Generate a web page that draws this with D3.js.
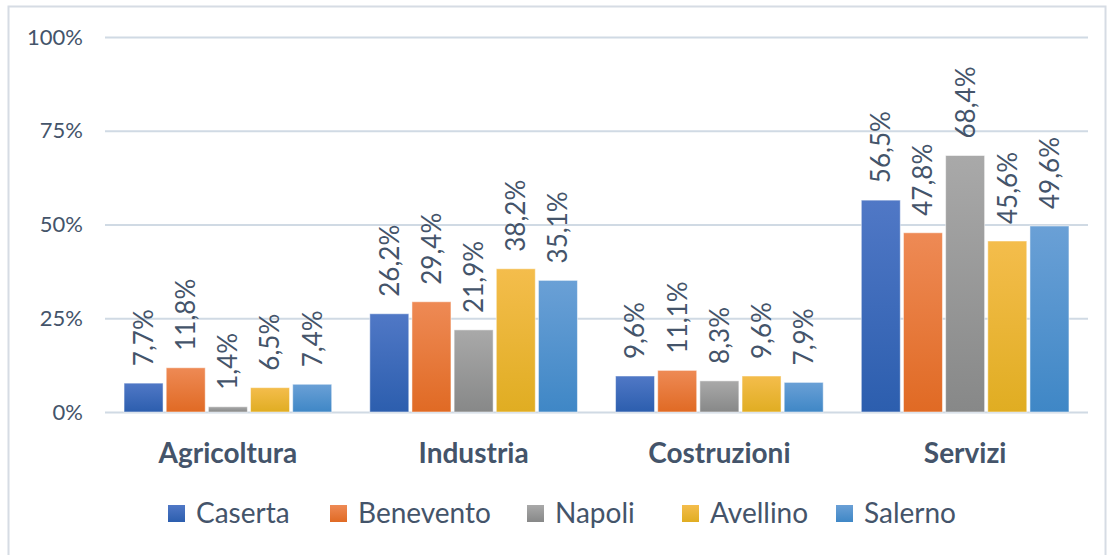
<!DOCTYPE html>
<html>
<head>
<meta charset="utf-8">
<script src="https://cdn.jsdelivr.net/npm/d3@7"></script>
<style>
  body { margin: 0; background: #fff; }
  svg { display: block; }
</style>
</head>
<body>
<svg id="chart" width="1113" height="555"></svg>
<script>
// Categories and series
const sectors = ['Agricoltura', 'Industria', 'Costruzioni', 'Servizi'];
const provinces = ['Caserta', 'Benevento', 'Napoli', 'Avellino', 'Salerno'];

// values per province, in sector order
const caserta = [7.7, 26.2, 9.6, 56.5];
const benevento = [11.8, 29.4, 11.1, 47.8];
const napoli = [1.4, 21.9, 8.3, 68.4];
const avellino = [6.5, 38.2, 9.6, 45.6];
const salerno = [7.4, 35.1, 7.9, 49.6];

const yTicks = [0, 25, 50, 75, 100];

const seriesValues = [caserta, benevento, napoli, avellino, salerno];
const colors = [
  ['#5078c6', '#2c5eae'],
  ['#ee8a55', '#e06a24'],
  ['#a9a9a9', '#878888'],
  ['#f4bd4c', '#e0ad22'],
  ['#6aa0d6', '#3f87c6'],
];

const svg = d3.select('#chart');
const textColor = '#44546a';
const font = 'Lato, "Open Sans", sans-serif';

// chart border
svg.append('rect')
  .attr('x', 8.5).attr('y', 6.5)
  .attr('width', 1097).attr('height', 560)
  .attr('fill', '#fff')
  .attr('stroke', '#d6dce4')
  .attr('stroke-width', 2);

// gradients
const defs = svg.append('defs');
colors.forEach((c, i) => {
  const g = defs.append('linearGradient')
    .attr('id', `grad${i}`)
    .attr('x1', 0).attr('y1', 0).attr('x2', 0).attr('y2', 1);
  g.append('stop').attr('offset', '0%').attr('stop-color', c[0]);
  g.append('stop').attr('offset', '100%').attr('stop-color', c[1]);
});

const margin = { left: 105, right: 1088, top: 37, bottom: 412 };

const x0 = d3.scaleBand()
  .domain(sectors)
  .range([margin.left, margin.right])
  .paddingInner(0.155)
  .paddingOuter(0.0775);

const x1 = d3.scaleBand()
  .domain(provinces)
  .range([0, x0.bandwidth()])
  .paddingInner(0.075);

const y = d3.scaleLinear()
  .domain([0, 100])
  .range([margin.bottom, margin.top]);

// gridlines + y axis
const yAxis = d3.axisLeft(y)
  .tickValues(yTicks)
  .tickSize(-(margin.right - margin.left))
  .tickPadding(22)
  .tickFormat((d) => `${d}%`);

const yg = svg.append('g')
  .attr('transform', `translate(${margin.left},0)`)
  .call(yAxis);
yg.select('.domain').remove();
yg.selectAll('.tick line')
  .attr('stroke', '#d0dae4')
  .attr('stroke-width', 2);
yg.selectAll('.tick text')
  .attr('fill', textColor)
  .style('font-family', font)
  .style('font-size', '22px');

// bars
const groups = svg.append('g')
  .selectAll('g')
  .data(sectors)
  .join('g')
  .attr('transform', (d) => `translate(${x0(d)},0)`);

const cells = (d, si) => provinces.map((p, pi) => ({ p, pi, v: seriesValues[pi][si] }));

groups.selectAll('rect')
  .data(cells)
  .join('rect')
  .attr('x', (d) => x1(d.p))
  .attr('y', (d) => y(d.v))
  .attr('width', x1.bandwidth())
  .attr('height', (d) => y(0) - y(d.v))
  .attr('fill', (d) => `url(#grad${d.pi})`)
  .attr('stroke', '#ffffff')
  .attr('stroke-opacity', 0.5)
  .attr('stroke-width', 1);

// rotated value labels
groups.selectAll('text.val')
  .data(cells)
  .join('text')
  .attr('class', 'val')
  .attr('transform', (d) => `translate(${x1(d.p) + x1.bandwidth() / 2},${y(d.v) - 17}) rotate(-90)`)
  .attr('dy', '0.36em')
  .attr('fill', textColor)
  .style('font-family', font)
  .style('font-size', '26px')
  .text((d) => `${d.v.toFixed(1).replace('.', ',')}%`);

// category labels
svg.append('g')
  .selectAll('text')
  .data(sectors)
  .join('text')
  .attr('x', (d) => x0(d) + x0.bandwidth() / 2)
  .attr('y', 463)
  .attr('text-anchor', 'middle')
  .attr('fill', textColor)
  .style('font-family', font)
  .style('font-weight', 'bold')
  .style('font-size', '28px')
  .text((d) => d);

// legend
const legendX = [168, 330, 527, 682, 836];
const legend = svg.append('g')
  .selectAll('g')
  .data(provinces)
  .join('g')
  .attr('transform', (d, i) => `translate(${legendX[i]},505)`);

legend.append('rect')
  .attr('x', 0).attr('y', 0)
  .attr('width', 17).attr('height', 17)
  .attr('fill', (d, i) => `url(#grad${i})`);

legend.append('text')
  .attr('x', 28)
  .attr('y', 18)
  .attr('fill', textColor)
  .style('font-family', font)
  .style('font-size', '28px')
  .text((d) => d);
</script>
</body>
</html>
